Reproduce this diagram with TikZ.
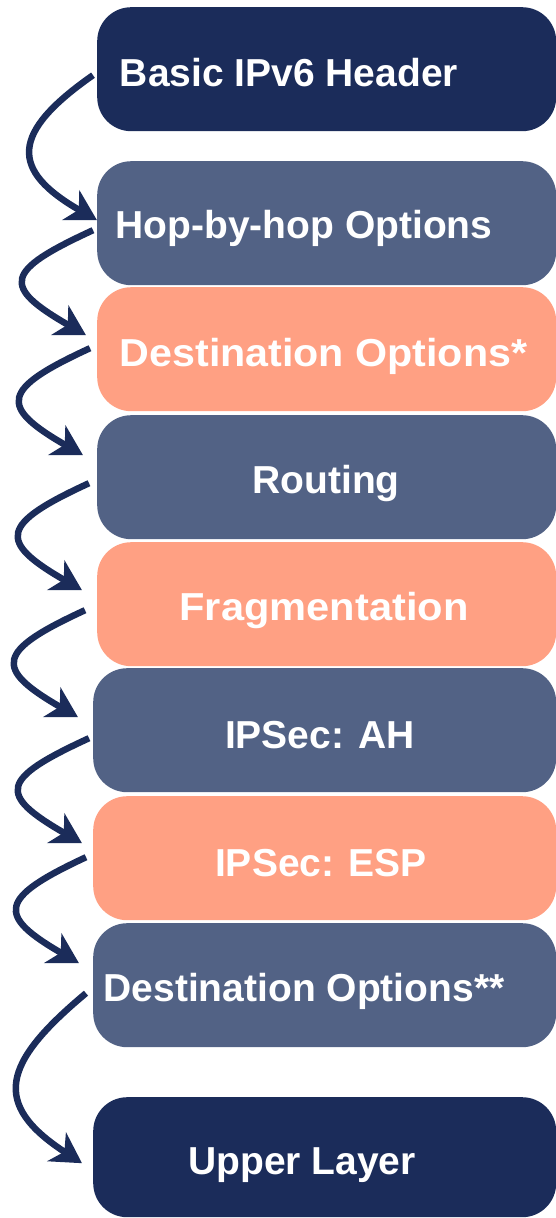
\documentclass[tikz,border=0pt]{standalone}
\usepackage{fontspec}
\setmainfont{Liberation Sans}
\usetikzlibrary{arrows.meta,calc}

\definecolor{navy}{HTML}{1B2C5A}
\definecolor{slate}{HTML}{526285}
\definecolor{salmon}{HTML}{FFA083}

\begin{document}
\begin{tikzpicture}[x=1pt,y=-1pt,
  hdr/.style={rectangle, rounded corners=34pt, minimum width=459pt,
              minimum height=124pt, inner sep=0pt, draw=none, anchor=north west},
  dark/.style={hdr, fill=navy},
  mid/.style={hdr, fill=slate},
  warm/.style={hdr, fill=salmon},
  lbl/.style={anchor=base, text=white, inner sep=0pt,
              font=\bfseries\fontsize{39}{40}\selectfont},
  flow/.style={draw=navy, line width=6.5pt,
               -{Stealth[length=30pt,width=34pt,inset=9pt]}}]

\useasboundingbox (0,0) rectangle (555,1218);

% header chain, top to bottom
\node[dark] (b1) at (97,7)    {};
\node[mid]  (b2) at (97,161)  {};
\node[warm] (b3) at (97,287)  {};
\node[mid]  (b4) at (97,415)  {};
\node[warm] (b5) at (97,542)  {};
\node[mid, minimum width=463pt]  (b6) at (93,668)  {};
\node[warm, minimum width=463pt] (b7) at (93,796)  {};
\node[mid, minimum width=463pt]  (b8) at (93,923)  {};
\node[dark, minimum width=463pt, minimum height=120pt] (b9) at (93,1097) {};

% labels
\node[lbl] (t1) at (289,86)    {Basic IPv6 Header};
\node[lbl] (t2) at (304,238)   {Hop-by-hop Options};
\node[lbl, xscale=1.057, transform shape] (t3) at (323.5,366) {Destination Options*};
\node[lbl] (t4) at (326,493)   {Routing};
\node[lbl, xscale=1.067, transform shape] (t5) at (324,620)   {Fragmentation};
\node[lbl] (t6) at (320,748)   {IPSec: AH};
\node[lbl] (t7) at (321,876)   {IPSec: ESP};
\node[lbl] (t8) at (304,1001)  {Destination Options**};
\node[lbl] (t9) at (302,1174)  {Upper Layer};

% next-header links
\draw[flow] ($(b1.west)+(-4,6)$)   .. controls +(-83,58) and +(-87,-50) .. ($(b2.west)+(0,-3)$);
\draw[flow] ($(b2.west)+(-4,7)$)   .. controls +(-89,41) and +(-85,-49) .. ($(b3.west)+(-11,-14)$);
\draw[flow] ($(b3.west)+(-7,-1)$)  .. controls +(-89,41) and +(-85,-49) .. ($(b4.west)+(-14,-22)$);
\draw[flow] ($(b4.west)+(-8,6)$)   .. controls +(-89,41) and +(-85,-49) .. ($(b5.west)+(-15,-14)$);
\draw[flow] ($(b5.west)+(-12,6)$)  .. controls +(-89,41) and +(-85,-49) .. ($(b6.west)+(-15,-13)$);
\draw[flow] ($(b6.west)+(-4,8)$)   .. controls +(-89,41) and +(-85,-49) .. ($(b7.west)+(-11,-15)$);
\draw[flow] ($(b7.west)+(-7,-1)$)  .. controls +(-88,41) and +(-83,-48) .. ($(b8.west)+(-14,-22)$);
\draw[flow] ($(b8.west)+(-7,8)$)   .. controls +(-84,70) and +(-91,-59) .. ($(b9.west)+(-11,6)$);

\end{tikzpicture}
\end{document}
